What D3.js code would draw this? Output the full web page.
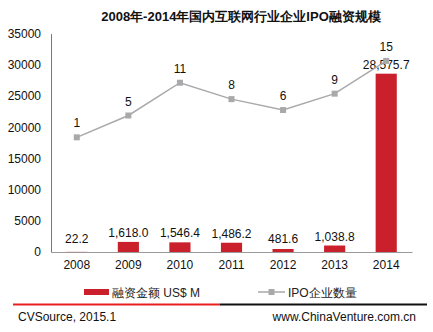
<!DOCTYPE html>
<html><head><meta charset="utf-8">
<script src="https://cdn.jsdelivr.net/npm/d3@7/dist/d3.min.js"></script>
<style>body{margin:0;background:#fff}svg{display:block;font-family:"Liberation Sans",Arial,sans-serif}</style>
</head><body><svg id="c" width="433" height="332"></svg>
<script>
const years = ["2008","2009","2010","2011","2012","2013","2014"];
const amounts = [22.2, 1618.0, 1546.4, 1486.2, 481.6, 1038.8, 28575.7];
const amountLabels = ["22.2","1,618.0","1,546.4","1,486.2","481.6","1,038.8","28,575.7"];
const ipoCounts = [1, 5, 11, 8, 6, 9, 15];
const yTicks = [0,5000,10000,15000,20000,25000,30000,35000];
const title = "2008年-2014年国内互联网行业企业IPO融资规模";
const seriesNames = ["融资金额 US$ M", "IPO企业数量"];

const svg = d3.select("#c");
const L = 51, R = 412, T = 33.6, B = 252;
const x = d3.scaleBand().domain(years).range([L, R]).paddingInner(0.59).paddingOuter(0.295);
const y = d3.scaleLinear().domain([0, 35000]).range([B, T]);
const y2 = d3.scaleLinear().domain([-20, 20]).range([B, T]);
const red = "#c9202c", gray = "#a9a9ab";

svg.append("text").attr("x", 241).attr("y", 21).attr("text-anchor", "middle")
  .attr("font-size", 13).attr("font-weight", "bold").attr("fill", "#111").text(title);

// y axis
const ya = svg.append("g").attr("transform", `translate(${L},0)`)
  .call(d3.axisLeft(y).tickValues(yTicks).tickSize(0).tickPadding(10).tickFormat(d3.format("d")));
ya.select(".domain").attr("stroke", "#777");
ya.selectAll("text").attr("font-size", 12).attr("fill", "#111").attr("font-family", "Liberation Sans, Arial");

// x axis
const xa = svg.append("g").attr("transform", `translate(0,${B})`)
  .call(d3.axisBottom(x).tickSize(0).tickPadding(8).tickSizeOuter(0));
xa.select(".domain").attr("stroke", "#999");
xa.selectAll("text").attr("font-size", 12).attr("fill", "#111").attr("font-family", "Liberation Sans, Arial");

// bars
svg.append("g").selectAll("rect").data(amounts).join("rect")
  .attr("x", (d,i) => x(years[i])).attr("width", x.bandwidth())
  .attr("y", d => y(d)).attr("height", d => B - y(d)).attr("fill", red);

// bar labels
svg.append("g").selectAll("text").data(amounts).join("text")
  .attr("x", (d,i) => x(years[i]) + x.bandwidth()/2)
  .attr("y", d => Math.min(y(d), B - 4) - 5)
  .attr("text-anchor", "middle").attr("font-size", 12).attr("fill", "#111")
  .text((d,i) => amountLabels[i]);

// line
const cx = (d,i) => x(years[i]) + x.bandwidth()/2;
svg.append("path").datum(ipoCounts)
  .attr("d", d3.line().x(cx).y(d => y2(d)))
  .attr("fill", "none").attr("stroke", gray).attr("stroke-width", 1.5);
svg.append("g").selectAll("rect").data(ipoCounts).join("rect")
  .attr("x", (d,i) => cx(d,i) - 3).attr("y", d => y2(d) - 3)
  .attr("width", 6).attr("height", 6).attr("fill", gray);
svg.append("g").selectAll("text").data(ipoCounts).join("text")
  .attr("x", cx).attr("y", d => y2(d) - 10)
  .attr("text-anchor", "middle").attr("font-size", 12).attr("fill", "#111").text(d => d);

// legend
const lg = svg.append("g");
lg.append("rect").attr("x", 84).attr("y", 289).attr("width", 25).attr("height", 6).attr("fill", red);
lg.append("text").attr("x", 112).attr("y", 296.5).attr("font-size", 12).attr("fill", "#222").text(seriesNames[0]);
lg.append("line").attr("x1", 258).attr("x2", 285).attr("y1", 292).attr("y2", 292).attr("stroke", gray).attr("stroke-width", 1.5);
lg.append("rect").attr("x", 268.5).attr("y", 289).attr("width", 6).attr("height", 6).attr("fill", gray);
lg.append("text").attr("x", 288).attr("y", 296.5).attr("font-size", 12).attr("fill", "#222").text(seriesNames[1]);

// footer
svg.append("line").attr("x1", 13).attr("x2", 220).attr("y1", 304.5).attr("y2", 304.5).attr("stroke", "#e8201e").attr("stroke-width", 2);
svg.append("line").attr("x1", 220).attr("x2", 427).attr("y1", 304.5).attr("y2", 304.5).attr("stroke", "#111").attr("stroke-width", 2);
svg.append("text").attr("x", 18).attr("y", 321).attr("font-size", 12).attr("fill", "#111").text("CVSource, 2015.1");
svg.append("text").attr("x", 416).attr("y", 321).attr("text-anchor", "end").attr("font-size", 12).attr("fill", "#111").text("www.ChinaVenture.com.cn");
</script></body></html>
